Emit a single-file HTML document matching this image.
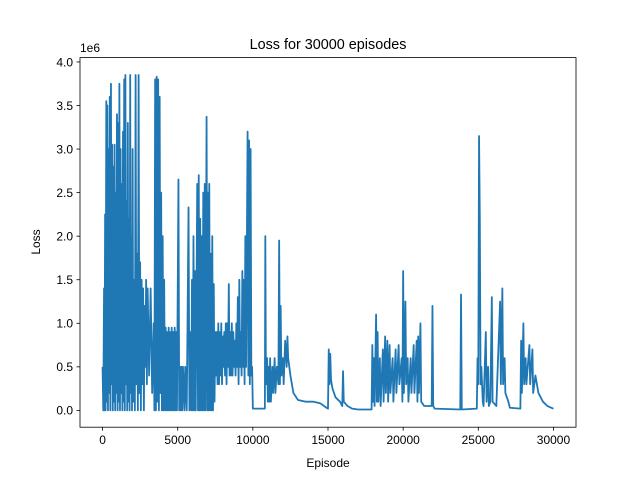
<!DOCTYPE html>
<html><head><meta charset="utf-8"><style>
html,body{margin:0;padding:0;background:#fff;}
svg{display:block;font-family:"Liberation Sans","DejaVu Sans",sans-serif;}
</style></head><body>
<svg id="chart" width="640" height="480" viewBox="0 0 640 480">
<rect width="640" height="480" fill="#fff"/>
<text x="328" y="49" font-size="14.4" text-anchor="middle" fill="#000">Loss for 30000 episodes</text>
<g id="plot"></g>
<rect x="80" y="57.6" width="496" height="369.6" fill="none" stroke="#000" stroke-width="0.8"/>
<g id="xt"></g>
<g id="yt"></g>
<text x="80" y="52" font-size="12" fill="#000">1e6</text>
<text x="328" y="467" font-size="12" text-anchor="middle">Episode</text>
<text transform="translate(40,242) rotate(-90)" font-size="12" text-anchor="middle">Loss</text>
</svg>
<script>
const xTicks=[0,5000,10000,15000,20000,25000,30000];
const yTicks=[0,0.5,1.0,1.5,2.0,2.5,3.0,3.5,4.0];
// [episode, loss (×1e6)]
const points=[
[0,0.5],[50,0],[100,1.4],[130,0],[170,2.25],[200,0],[250,3.55],[280,0.1],[320,3.5],[360,0],[400,3.0],[440,0.2],[480,3.6],[520,0],[560,3.75],[600,0.3],[640,3.05],[680,0],[720,2.8],[760,0.1],[800,3.05],[840,0],[880,2.5],[920,0.2],[960,3.4],[1000,0],
[1040,3.3],[1080,0.1],[1120,3.75],[1160,0],[1200,3.0],[1240,0.2],[1280,2.6],[1320,0],[1360,3.2],[1400,0.1],[1440,3.8],[1480,0],[1520,3.85],[1560,0.3],[1600,2.4],[1640,0],[1680,3.3],[1720,0.1],[1760,2.2],[1800,0],[1840,3.85],[1880,0.2],[1920,2.0],[1960,0],[2000,3.0],
[2040,0.1],[2100,1.5],[2150,0],[2200,3.85],[2250,0.3],[2300,1.8],[2350,0],[2400,3.85],[2450,0.2],[2500,1.7],[2550,0],[2600,1.5],[2650,0.3],[2700,1.4],[2750,0],[2800,1.2],[2850,0.5],[2900,1.5],[2950,0.3],[3000,1.4],[3100,0.4],[3200,1.4],[3300,0.2],[3400,1.0],[3450,0],
[3500,3.8],[3550,0],[3600,3.83],[3650,0.1],[3700,3.8],[3750,0],[3800,3.6],[3850,0.2],[3900,2.5],[3950,0],[4000,2.0],[4050,0],[4100,1.5],[4150,0],
[4200,0.95],[4250,0],[4300,0.9],[4350,0],[4400,0.95],[4450,0],[4500,0.9],[4550,0],[4600,0.95],[4650,0],[4700,0.9],[4750,0],[4800,0.95],[4850,0],[4900,0.9],[4950,0],
[5050,2.65],[5100,0],[5150,0.5],[5200,0],[5250,0.5],[5300,0],[5350,0.5],[5450,0],[5500,0.5],[5600,0],[5650,0.9],[5720,2.33],[5780,0],[5850,0.9],[5900,0],
[5950,1.5],[6000,0],[6050,2.0],[6100,0],[6150,1.6],[6200,0],[6300,2.6],[6350,0],[6400,2.7],[6450,0],[6500,2.2],[6550,0],[6600,2.0],[6650,0],[6700,2.5],[6750,0],[6800,2.6],[6850,0],[6920,3.37],[6980,0],[7000,2.5],[7050,0],[7100,2.6],[7150,0],[7200,1.8],[7250,0],[7300,2.0],[7350,0],[7400,1.45],[7450,0.1],
[7500,0.9],[7550,0.4],[7600,0.9],[7650,0.3],[7700,1.0],[7750,0.3],[7800,0.9],[7850,0.4],[7900,1.0],[7950,0.3],[8000,0.85],[8050,0.5],[8100,0.9],[8150,0.4],[8200,1.0],[8250,0.3],[8300,1.0],[8350,0.5],[8400,1.45],[8450,0.4],[8500,0.9],[8550,0.4],[8600,1.0],[8650,0.4],[8700,0.9],[8750,0.5],[8800,0.8],[8850,0.4],[8900,1.0],[8950,0.5],[9000,1.3],[9050,0.3],[9100,1.5],[9150,0.5],[9200,0.9],[9250,0.4],[9300,1.6],[9350,0.5],[9400,1.5],[9450,0.3],[9500,2.0],[9550,0.5],[9650,3.2],[9700,0.4],[9750,3.1],[9800,0.3],[9850,3.0],[9900,0.4],[9950,0.5],[10000,0.02],
[10800,0.02],[10830,2.0],[10870,0.3],[10950,0.6],[11000,0.1],[11050,0.5],[11100,0.1],[11150,0.6],[11200,0.1],[11300,0.5],[11350,0.2],[11450,0.6],[11500,0.2],[11600,0.5],[11700,0.3],[11750,1.95],[11800,0.3],[11850,1.2],[11900,0.4],[12000,0.6],[12050,0.3],[12150,0.8],[12250,0.5],[12300,0.85],[12350,0.6],[12500,0.4],[12700,0.2],[13000,0.12],[13500,0.1],[14000,0.1],[14500,0.08],[14900,0.03],
[15000,0.02],[15050,0.7],[15100,0.3],[15150,0.65],[15200,0.35],[15300,0.25],[15500,0.15],[15800,0.1],[15950,0.05],[16000,0.45],[16050,0.1],[16300,0.05],[16600,0.02],[17000,0.01],[17900,0.01],
[17950,0.75],[18000,0.1],[18050,0.6],[18100,0.05],[18200,1.1],[18250,0.1],[18300,0.9],[18350,0.1],[18450,0.6],[18500,0.05],[18650,0.7],[18700,0.1],[18800,0.85],[18850,0.2],[18950,0.8],[19000,0.1],[19100,0.75],[19150,0.2],[19300,0.6],[19350,0.1],[19500,0.7],[19550,0.2],[19700,0.75],[19750,0.3],[19900,0.6],[19950,0.1],
[20000,1.6],[20050,0.2],[20150,1.25],[20200,0.3],[20300,0.6],[20350,0.1],[20500,0.6],[20550,0.2],[20700,0.75],[20750,0.2],[20900,0.8],[20950,0.1],[21000,0.85],[21050,0.2],[21150,1.0],[21200,0.1],[21400,0.05],[21900,0.05],[21950,1.2],[22000,0.05],[22100,0.02],[23800,0.01],[23850,1.33],[23900,0.01],
[24900,0.02],[24950,0.6],[25000,0.3],[25050,3.15],[25100,2.2],[25150,0.3],[25200,0.5],[25300,0.1],[25350,0.05],[25500,0.9],[25550,0.1],[25650,0.5],[25700,0.05],[25800,0.1],[25900,1.3],[25950,0.1],[26200,0.05],[26450,1.25],[26500,0.3],[26600,1.4],[26650,0.3],[26750,0.6],[26800,0.2],[27000,0.1],[27100,0.03],
[27800,0.02],[27850,0.8],[27900,0.2],[28000,1.0],[28050,0.3],[28150,0.6],[28200,0.3],[28400,0.75],[28450,0.3],[28600,0.7],[28650,0.2],[28800,0.4],[29000,0.2],[29300,0.1],[29600,0.05],[30000,0.02]
];
const episodes=points.map(p=>p[0]);
const losses=points.map(p=>p[1]);
const X0=80,X1=576,Y0=57.6,Y1=427.2,xmin=-1500,xmax=31500,ymin=-0.193,ymax=4.05;
const sx=v=>X0+(v-xmin)/(xmax-xmin)*(X1-X0);
const sy=v=>Y1-(v-ymin)/(ymax-ymin)*(Y1-Y0);
const NS='http://www.w3.org/2000/svg';
const plot=document.getElementById('plot');
const line=document.createElementNS(NS,'polyline');


line.setAttribute('points',episodes.map((e,i)=>sx(e).toFixed(2)+','+sy(losses[i]).toFixed(2)).join(' '));
line.setAttribute('fill','none');line.setAttribute('stroke','#1f77b4');
line.setAttribute('stroke-width','1.8');line.setAttribute('stroke-linejoin','round');
plot.appendChild(line);
const xt=document.getElementById('xt');
xTicks.forEach(t=>{
 const l=document.createElementNS(NS,'line');
 
 
 l.setAttribute('x1',sx(t));l.setAttribute('x2',sx(t));l.setAttribute('y1',Y1);l.setAttribute('y2',Y1+3.5);l.setAttribute('stroke','#000');l.setAttribute('stroke-width','0.8');
 xt.appendChild(l);
 const tx=document.createElementNS(NS,'text');
 
 
 tx.setAttribute('x',sx(t));tx.setAttribute('y',Y1+17);tx.setAttribute('font-size','12');tx.setAttribute('text-anchor','middle');
 tx.textContent=t;xt.appendChild(tx);
});
const yt=document.getElementById('yt');
yTicks.forEach(t=>{
 const l=document.createElementNS(NS,'line');
 
 
 l.setAttribute('x1',X0-3.5);l.setAttribute('x2',X0);l.setAttribute('y1',sy(t));l.setAttribute('y2',sy(t));l.setAttribute('stroke','#000');l.setAttribute('stroke-width','0.8');
 yt.appendChild(l);
 const tx=document.createElementNS(NS,'text');
 
 
 tx.setAttribute('x',X0-7);tx.setAttribute('y',sy(t)+4.3);tx.setAttribute('font-size','12');tx.setAttribute('text-anchor','end');
 tx.textContent=t.toFixed(1);yt.appendChild(tx);
});
</script>
</body></html>
